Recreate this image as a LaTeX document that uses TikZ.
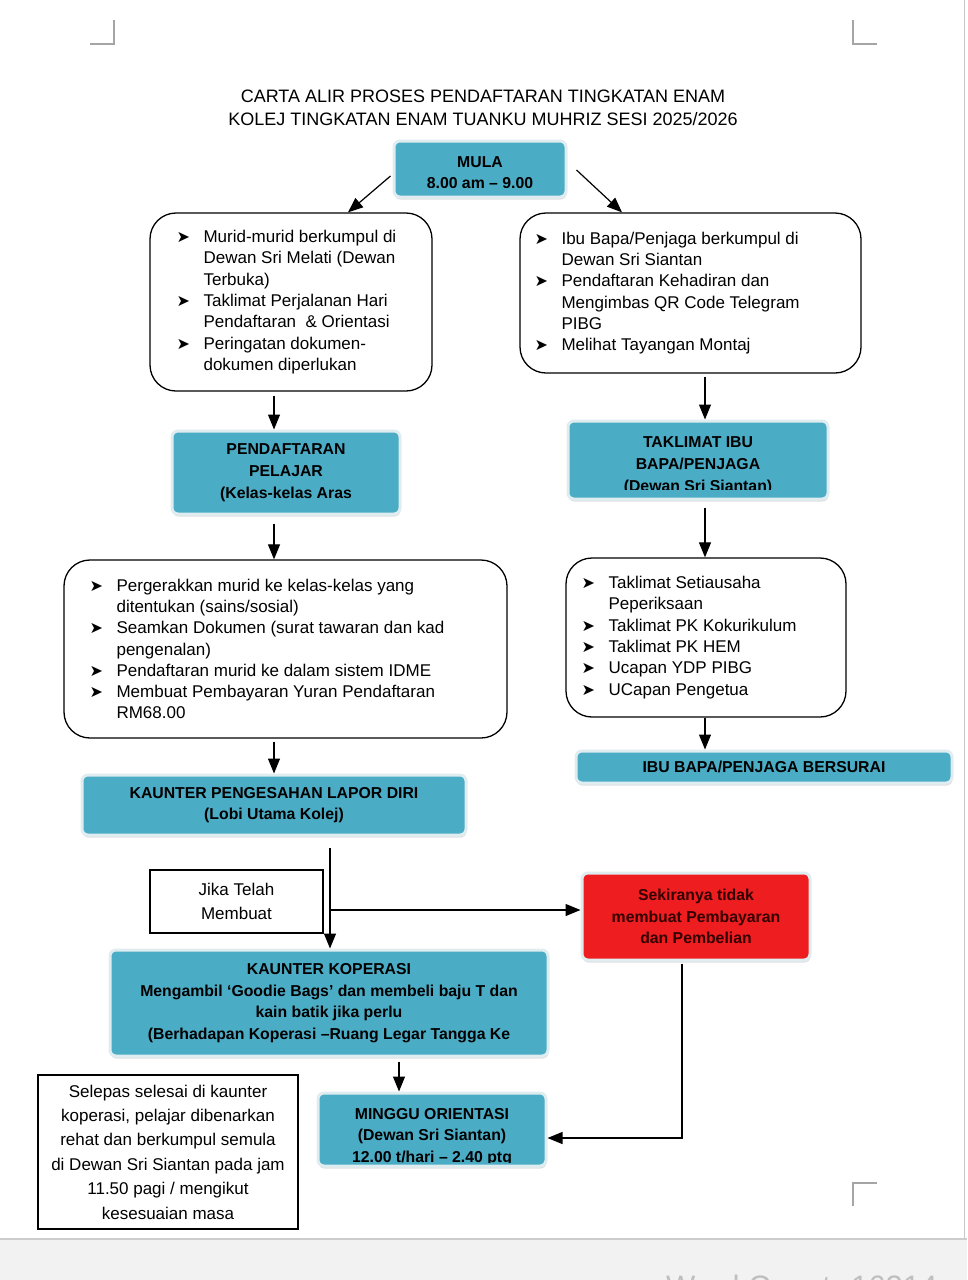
\documentclass[tikz,border=0pt]{standalone}
\usepackage{fontspec}
\usepackage{xcolor}
\usetikzlibrary{calc}
\usetikzlibrary{arrows.meta}
\usetikzlibrary{shadows}
\setmainfont{Liberation Sans}
\newfontfamily\symbolfont{DejaVu Sans}
\definecolor{chart-blue}{RGB}{75, 172, 198}
\definecolor{chart-red}{RGB}{238, 30, 32}
\definecolor{chart-ink}{RGB}{50, 0, 0}
\definecolor{chart-glow}{RGB}{224, 237, 240}
\definecolor{chart-mark}{RGB}{165, 165, 165}
\definecolor{chart-band}{RGB}{242, 242, 242}
\newcommand{\bul}{\makebox[27pt][l]{\symbolfont\fontsize{16}{16}\selectfont ➤}}
\newcommand{\cont}{\hspace*{27pt}}

\begin{document}
\begin{tikzpicture}[x=1pt, y=-1pt,
  boxtext/.style={align=center, inner sep=0pt, font=\bfseries\fontsize{15.8}{21.7}\selectfont},
  bluebox/.style={boxtext, rectangle, rounded corners=6pt, fill=chart-blue, draw=chart-glow, line width=3pt,
    drop shadow={shadow xshift=0.5pt, shadow yshift=-2.5pt, opacity=0.25}},
  redbox/.style={bluebox, fill=chart-red, text=chart-ink},
  listbox/.style={rectangle, rounded corners=26pt, draw=black, line width=1.3pt, fill=white},
  listtext/.style={anchor=west, align=left, inner sep=0pt, font=\fontsize{17}{21.3}\selectfont},
  notebox/.style={rectangle, draw=black, line width=1.2pt, fill=white, align=center, inner sep=0pt,
    font=\fontsize{17}{24.4}\selectfont},
  arr/.style={-{Triangle[width=12pt,length=15pt]}, line width=1.2pt},
  pagemark/.style={draw=chart-mark, line width=1.5pt}]
\useasboundingbox (0,0) rectangle (967,1280);
\clip (0,0) rectangle (967,1280);
\fill[white] (0,0) rectangle (967,1280);

\draw[pagemark] (114,20) -- (114,44) -- (90,44);
\draw[pagemark] (853,20) -- (853,44) -- (877,44);
\draw[pagemark] (877,1183) -- (853,1183) -- (853,1206);
\draw[gray!45, line width=1pt] (964,0) -- (964,1238);
\fill[chart-band] (0,1239) rectangle (967,1280);
\draw[gray!40, line width=1.5pt] (0,1239) -- (967,1239);
\node[anchor=base west, inner sep=0pt, font=\fontsize{31}{31}\selectfont, text=gray!50] (wordcount) at (666,1297) {Word Count: 16214};

\node[align=center, font=\fontsize{18}{23}\selectfont] (title) at (483,107.5)
  {CARTA ALIR PROSES PENDAFTARAN TINGKATAN ENAM\\KOLEJ TINGKATAN ENAM TUANKU MUHRIZ SESI 2025/2026};

\node[bluebox, minimum width=172pt, minimum height=56pt] (mula) at (480,169) {};
\begin{scope}
  \clip (394,142) rectangle (566,187.5);
  \node[boxtext] (mula-txt) at (480,172.5) {MULA\\8.00 am – 9.00};
\end{scope}

\node[listbox, minimum width=282pt, minimum height=178pt] (left-brief) at (291,302) {};
\node[listtext] (left-brief-txt) at ([xshift=27pt]left-brief.west)
  {\bul Murid-murid berkumpul di\\
   \cont Dewan Sri Melati (Dewan\\
   \cont Terbuka)\\
   \bul Taklimat Perjalanan Hari\\
   \cont Pendaftaran \ \& Orientasi\\
   \bul Peringatan dokumen-\\
   \cont dokumen diperlukan};

\node[listbox, minimum width=341pt, minimum height=160pt] (right-brief) at (690.5,293) {};
\node[listtext] (right-brief-txt) at ([xshift=15pt]right-brief.west)
  {\bul Ibu Bapa/Penjaga berkumpul di\\
   \cont Dewan Sri Siantan\\
   \bul Pendaftaran Kehadiran dan\\
   \cont Mengimbas QR Code Telegram\\
   \cont PIBG\\
   \bul Melihat Tayangan Montaj};

\node[bluebox, minimum width=228pt, minimum height=83pt] (pendaftaran) at (286,472.5)
  {PENDAFTARAN\\PELAJAR\\(Kelas-kelas Aras};

\node[bluebox, minimum width=260pt, minimum height=78pt] (taklimat) at (698,460) {};
\begin{scope}
  \clip (568,422) rectangle (828,489);
  \node[boxtext] (taklimat-txt) at (698,465.5) {TAKLIMAT IBU\\BAPA/PENJAGA\\(Dewan Sri Siantan)};
\end{scope}

\node[listbox, minimum width=443pt, minimum height=178pt] (left-class) at (285.5,649) {};
\node[listtext] (left-class-txt) at ([xshift=26pt]left-class.west)
  {\bul Pergerakkan murid ke kelas-kelas yang\\
   \cont ditentukan (sains/sosial)\\
   \bul Seamkan Dokumen (surat tawaran dan kad\\
   \cont pengenalan)\\
   \bul Pendaftaran murid ke dalam sistem IDME\\
   \bul Membuat Pembayaran Yuran Pendaftaran\\
   \cont RM68.00};

\node[listbox, minimum width=280pt, minimum height=159pt] (right-talk) at (706,637.5) {};
\node[listtext] (right-talk-txt) at ([xshift=16pt]right-talk.west)
  {\bul Taklimat Setiausaha\\
   \cont Peperiksaan\\
   \bul Taklimat PK Kokurikulum\\
   \bul Taklimat PK HEM\\
   \bul Ucapan YDP PIBG\\
   \bul UCapan Pengetua};

\node[bluebox, minimum width=376pt, minimum height=32pt] (bersurai) at (764,767) {IBU BAPA/PENJAGA BERSURAI};

\node[bluebox, minimum width=384pt, minimum height=60pt] (lapor) at (274,805)
  {KAUNTER PENGESAHAN LAPOR DIRI\\(Lobi Utama Kolej)};

\node[notebox, minimum width=173pt, minimum height=63pt] (jika) at (236.5,901.5) {Jika Telah\\Membuat};

\node[redbox, minimum width=228pt, minimum height=87pt] (tidak) at (696,916.5)
  {Sekiranya tidak\\membuat Pembayaran\\dan Pembelian};

\node[bluebox, minimum width=438pt, minimum height=106pt] (koperasi) at (329,1003)
  {KAUNTER KOPERASI\\Mengambil ‘Goodie Bags’ dan membeli baju T dan\\kain batik jika perlu\\(Berhadapan Koperasi –Ruang Legar Tangga Ke};

\node[bluebox, minimum width=228pt, minimum height=73pt] (orientasi) at (432,1129.5) {};
\begin{scope}
  \clip (318,1094) rectangle (546,1162);
  \node[boxtext] (orientasi-txt) at (432,1137) {MINGGU ORIENTASI\\(Dewan Sri Siantan)\\12.00 t/hari – 2.40 ptg};
\end{scope}

\node[notebox, minimum width=260pt, minimum height=154pt] (nota) at (168,1152)
  {Selepas selesai di kaunter\\koperasi, pelajar dibenarkan\\rehat dan berkumpul semula\\di Dewan Sri Siantan pada jam\\11.50 pagi / mengikut\\kesesuaian masa};

\coordinate (split) at (330,910);

\draw[arr] ([xshift=-2pt,yshift=-7pt]mula.west) -- ([xshift=57pt]left-brief.north);
\draw[arr] ([xshift=9pt,yshift=-1pt]mula.east) -- ([xshift=-68.5pt]right-brief.north);
\draw[arr] ([xshift=-17pt,yshift=-4pt]left-brief.south) -- ([xshift=-12pt]pendaftaran.north);
\draw[arr] ([xshift=-12pt,yshift=-8pt]pendaftaran.south) -- ([xshift=-11.5pt]left-class.north);
\draw[arr] ([xshift=-11.5pt,yshift=-3pt]left-class.south) -- (lapor.north);
\draw[arr] ([xshift=14.5pt,yshift=-3pt]right-brief.south) -- ([xshift=7pt]taklimat.north);
\draw[arr] ([xshift=7pt,yshift=-7pt]taklimat.south) -- ([xshift=-1pt]right-talk.north);
\draw[arr] ([xshift=-1pt]right-talk.south) -- ([xshift=-59pt]bersurai.north);
\draw[arr] ([xshift=56pt,yshift=-11pt]lapor.south) -- ([xshift=1pt]koperasi.north);
\draw[arr] (split) -- ([yshift=6.5pt]tidak.west);
\draw[arr] ([xshift=-14pt,yshift=-2pt]tidak.south) |- ([yshift=-8.5pt]orientasi.east);
\draw[arr] ([xshift=70pt,yshift=-4pt]koperasi.south) -- ([xshift=-33pt]orientasi.north);
\end{tikzpicture}
\end{document}
